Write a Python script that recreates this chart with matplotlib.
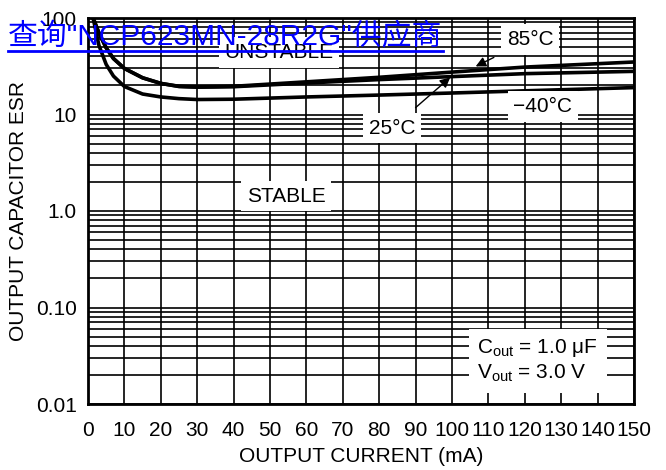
"""Output capacitor ESR stability chart"""
import matplotlib
matplotlib.use('Agg')
import matplotlib.pyplot as plt
from matplotlib.lines import Line2D

plt.rcParams['font.family'] = ['Liberation Sans', 'DejaVu Sans']

# Current (mA) sample points
current = [1.4, 3, 5, 7, 10, 15, 20, 25, 30, 40, 60, 80, 100, 120, 150]

# ESR boundary per temperature
esr_85c = [100, 70, 49, 38, 30, 24, 21, 19.6, 19.3, 19.6, 21.8, 24.3, 27.5, 31, 35]
esr_25c = [100, 70, 49, 38, 30, 24, 21, 19.5, 19.2, 19.4, 21.2, 23.0, 24.7, 26.5, 28]
esr_m40c = [100, 52, 33, 25, 19.5, 16.3, 15.2, 14.6, 14.3, 14.4, 15.2, 15.9, 16.7, 17.6, 19]

x_ticks = list(range(0, 151, 10))
y_ticks = [0.01, 0.1, 1, 10, 100]
y_tick_labels = ['0.01', '0.10', '1.0', '10', '100']

fig = plt.figure(figsize=(6.66, 4.70), dpi=100)
ax = fig.add_axes([88 / 666, 66 / 470, 546 / 666, 386 / 470])

ax.set_yscale('log')
ax.set_xlim(0, 150)
ax.set_ylim(0.01, 100)
ax.set_xticks(x_ticks)
ax.set_xticklabels([str(t) for t in x_ticks], fontsize=15)
ax.set_yticks(y_ticks)
ax.set_yticklabels(y_tick_labels, fontsize=15)
ax.tick_params(which='both', length=0)
ax.tick_params(axis='x', pad=12)
ax.tick_params(axis='y', pad=8)
ax.grid(True, which='both', color='black', lw=1.2)
for sp in ax.spines.values():
    sp.set_linewidth(2)

for vals in (esr_85c, esr_25c, esr_m40c):
    ax.plot(current, vals, color='black', lw=2.6, solid_capstyle='round', zorder=5)

box = dict(facecolor='white', edgecolor='none', pad=4)
ax.text(52.5, 44, 'UNSTABLE', fontsize=15, ha='center', va='center', bbox=box, zorder=4)
ax.text(54.5, 1.42, 'STABLE', fontsize=15, ha='center', va='center', bbox=box, zorder=4)
ax.annotate('85°C', xy=(106.5, 31.5), xytext=(121.5, 60), fontsize=15,
            ha='center', va='center', bbox=box, zorder=6,
            arrowprops=dict(arrowstyle='-|>', color='black', lw=1, shrinkA=6, shrinkB=0))
ax.annotate('25°C', xy=(99.5, 24.2), xytext=(83.5, 7.2), fontsize=15,
            ha='center', va='center', bbox=box, zorder=6,
            arrowprops=dict(arrowstyle='-|>', color='black', lw=1, shrinkA=6, shrinkB=0))
ax.text(125, 12.1, '\u221240°C', fontsize=15, ha='center', va='center', bbox=box, zorder=6)
ax.text(107, 0.028, 'C$_{\\mathregular{out}}$ = 1.0 \u03bcF\nV$_{\\mathregular{out}}$ = 3.0 V',
        fontsize=15, ha='left', va='center', linespacing=1.2,
        bbox=dict(facecolor='white', edgecolor='none', pad=6), zorder=6)

ax.set_xlabel('OUTPUT CURRENT (mA)', fontsize=15, labelpad=5)
ax.set_ylabel('OUTPUT CAPACITOR ESR', fontsize=15, labelpad=6)

# watermark link text on top
fig.text(8 / 666, 1 - 45 / 470, '查询"NCP623MN-28R2G"供应商', color='#0000ff',
         fontsize=21.5, family=['Liberation Sans', 'Noto Sans CJK SC'], va='baseline', zorder=10)
fig.add_artist(Line2D([8 / 666, 443 / 666], [1 - 51 / 470, 1 - 51 / 470],
                      color='#0000ff', lw=2, zorder=10))

fig.savefig('out.png', dpi=100)
